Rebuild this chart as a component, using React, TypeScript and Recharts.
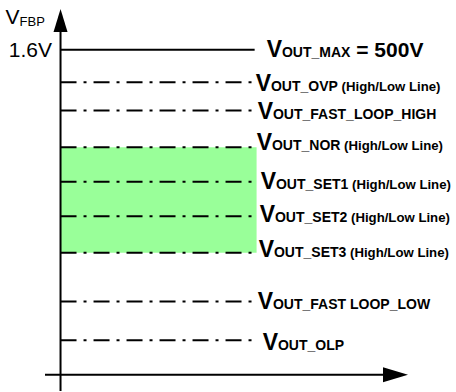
import React from 'react';
import { ComposedChart, XAxis, YAxis, ReferenceLine, ReferenceArea } from 'recharts';

// ---- data ----
const levelSubscripts = [
  'OUT_MAX',
  'OUT_OVP',
  'OUT_FAST_LOOP_HIGH',
  'OUT_NOR',
  'OUT_SET1',
  'OUT_SET2',
  'OUT_SET3',
  'OUT_FAST LOOP_LOW',
  'OUT_OLP',
];
const levelSuffixes = [
  ' = 500V',
  ' (High/Low Line)',
  '',
  ' (High/Low Line)',
  ' (High/Low Line)',
  ' (High/Low Line)',
  ' (High/Low Line)',
  '',
  '',
];
// V_FBP level of each threshold (volts)
const levelValues = [1.6, 1.44, 1.3, 1.12, 0.95, 0.78, 0.6, 0.36, 0.17];
const levelSolid = [true, false, false, false, false, false, false, false, false];
const bandTop = 1.12;
const bandBottom = 0.6;
const yTicks = [1.6];
const yTickLabels = ['1.6V'];
const lineStartX = 0;
const lineEndX = 1;

// ---- styles (not data) ----
const FONT = "'Liberation Sans', Arial, Helvetica, sans-serif";
const labelDx = [12, 1, 3, 2, 6, 5, 4, 3, 8];
const labelDy = [7, 9, 8, 3, 7, 6, 4, 7, 10];
const DASH = '16 7 3 7';

const tableData = levelValues.map((v, i) => ({ name: levelSubscripts[i], y: v }));

const makeLevelShape = (i: number) => (p: any) => {
  const x1 = Math.min(p.x1, p.x2);
  const x2 = Math.max(p.x1, p.x2);
  const y = p.y1;
  return (
    <g>
      <line
        x1={x1}
        y1={y}
        x2={x2}
        y2={y}
        stroke="#000"
        strokeWidth={2}
        strokeDasharray={levelSolid[i] ? undefined : DASH}
      />
      <text x={x2 + labelDx[i]} y={y + labelDy[i]} fontFamily={FONT} fontWeight="bold" fill="#000">
        <tspan fontSize={23}>V</tspan>
        <tspan fontSize={14}>{levelSubscripts[i]}</tspan>
        {levelSuffixes[i] ? (
          <tspan fontSize={i === 0 ? 21 : 13.2}>{levelSuffixes[i]}</tspan>
        ) : null}
      </text>
    </g>
  );
};

const VerticalAxisShape = (p: any) => {
  const x = p.x1;
  const top = Math.min(p.y1, p.y2);
  const bottom = Math.max(p.y1, p.y2);
  return (
    <g>
      <line x1={x} y1={top + 10} x2={x} y2={bottom} stroke="#000" strokeWidth={2} />
      <polygon points={`${x},${top} ${x - 7},${top + 23} ${x + 7},${top + 23}`} fill="#000" />
      <text x={x - 55} y={top + 15} fontFamily={FONT} fill="#000">
        <tspan fontSize={21}>V</tspan>
        <tspan fontSize={13} dy={2}>FBP</tspan>
      </text>
    </g>
  );
};

const HorizontalAxisShape = (p: any) => {
  const y = p.y1;
  const left = Math.min(p.x1, p.x2);
  const right = Math.max(p.x1, p.x2);
  return (
    <g>
      <line x1={left} y1={y} x2={right - 10} y2={y} stroke="#000" strokeWidth={2} />
      <polygon points={`${right},${y} ${right - 25},${y - 7.5} ${right - 25},${y + 7.5}`} fill="#000" />
    </g>
  );
};

const YTick = (p: any) => {
  const idx = yTicks.indexOf(p.payload.value);
  return (
    <text x={p.x + 15} y={p.y + 7} textAnchor="end" fontFamily={FONT} fontSize={21} fill="#000">
      {yTickLabels[idx >= 0 ? idx : 0]}
    </text>
  );
};

export default function App() {
  return (
    <div style={{ position: 'absolute', left: 0, top: 0, width: 456, height: 392, background: '#fff' }}>
      <ComposedChart
        width={456}
        height={392}
        data={tableData}
        margin={{ top: 9, right: 48, bottom: 1, left: 0 }}
      >
        <XAxis type="number" dataKey="y" domain={[-0.08, 1.79]} hide allowDataOverflow />
        <YAxis
          type="number"
          domain={[-0.08, 1.8]}
          width={45}
          ticks={yTicks}
          axisLine={false}
          tickLine={false}
          tick={<YTick />}
          allowDataOverflow
        />
        <ReferenceArea
          x1={lineStartX}
          x2={lineEndX + 0.01}
          y1={bandBottom}
          y2={bandTop}
          fill="#99ff99"
          fillOpacity={1}
          stroke="none"
          ifOverflow="visible"
        />
        {levelValues.map((v, i) => (
          <ReferenceLine
            key={i}
            segment={[
              { x: lineStartX, y: v },
              { x: lineEndX, y: v },
            ]}
            shape={makeLevelShape(i)}
            ifOverflow="visible"
          />
        ))}
        <ReferenceLine x={0} shape={VerticalAxisShape} ifOverflow="visible" />
        <ReferenceLine y={0} shape={HorizontalAxisShape} ifOverflow="visible" />
      </ComposedChart>
    </div>
  );
}
